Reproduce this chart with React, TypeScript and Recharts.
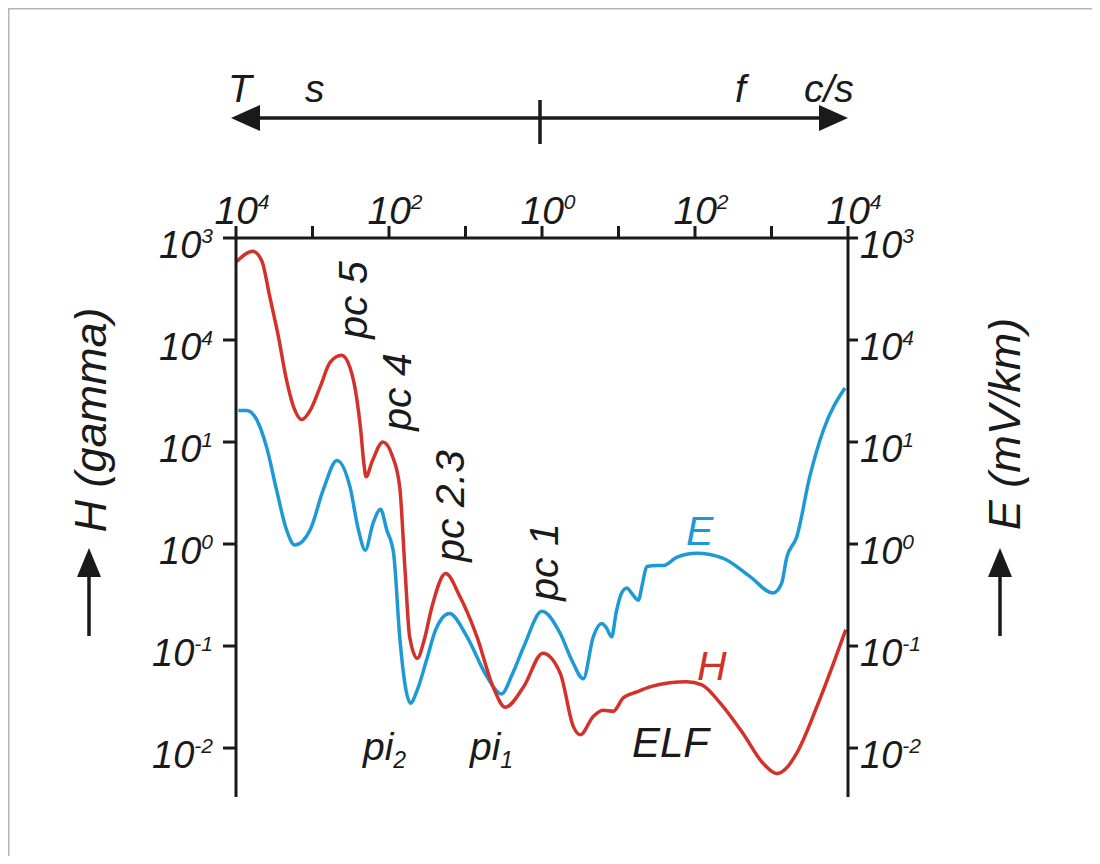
import React from 'react';
import { LineChart, Line, XAxis, YAxis } from 'recharts';

// x = log10(frequency) : -4 (period 10^4 s) ... +4 (10^4 c/s)
// y = log10(amplitude)
const hFreq = [-3.99, -3.78, -3.66, -3.56, -3.45, -3.34, -3.24, -3.14, -3.03, -2.9, -2.77, -2.62, -2.51, -2.42, -2.37, -2.33, -2.3, -2.22, -2.08, -1.96, -1.86, -1.79, -1.73, -1.63, -1.54, -1.44, -1.26, -1.07, -0.85, -0.64, -0.48, -0.24, 0.01, 0.24, 0.41, 0.5, 0.67, 0.8, 0.93, 1.06, 1.24, 1.41, 1.67, 1.89, 2.09, 2.33, 2.63, 2.89, 3.07, 3.19, 3.33, 3.59, 3.81, 3.97];
const hLevel = [2.77, 2.87, 2.77, 2.43, 2.05, 1.61, 1.33, 1.22, 1.31, 1.54, 1.78, 1.85, 1.73, 1.42, 1.12, 0.8, 0.66, 0.81, 1.0, 0.87, 0.56, -0.26, -0.91, -1.12, -0.94, -0.62, -0.29, -0.52, -0.91, -1.4, -1.6, -1.4, -1.07, -1.27, -1.79, -1.87, -1.69, -1.63, -1.64, -1.51, -1.45, -1.4, -1.36, -1.35, -1.38, -1.56, -1.86, -2.15, -2.25, -2.2, -2.05, -1.6, -1.17, -0.84];

const eFreq = [-3.97, -3.86, -3.73, -3.6, -3.47, -3.34, -3.23, -3.03, -2.86, -2.68, -2.51, -2.4, -2.31, -2.21, -2.11, -2.03, -1.94, -1.86, -1.79, -1.72, -1.63, -1.51, -1.39, -1.21, -0.98, -0.72, -0.53, -0.39, -0.24, 0.0, 0.24, 0.39, 0.54, 0.67, 0.78, 0.84, 0.91, 0.97, 1.04, 1.11, 1.16, 1.26, 1.31, 1.37, 1.5, 1.59, 1.76, 2.02, 2.37, 2.72, 3.02, 3.13, 3.2, 3.33, 3.5, 3.68, 3.96];
const eLevel = [1.31, 1.31, 1.22, 0.95, 0.53, 0.14, -0.01, 0.14, 0.53, 0.82, 0.56, 0.14, -0.06, 0.2, 0.34, 0.14, -0.09, -0.91, -1.38, -1.56, -1.43, -1.14, -0.84, -0.68, -0.91, -1.3, -1.47, -1.28, -1.01, -0.66, -0.88, -1.14, -1.32, -0.91, -0.78, -0.82, -0.91, -0.67, -0.48, -0.43, -0.47, -0.55, -0.4, -0.22, -0.21, -0.21, -0.13, -0.09, -0.14, -0.32, -0.48, -0.39, -0.13, 0.07, 0.66, 1.12, 1.53];

const xTicks = [-4, -3, -2, -1, 0, 1, 2, 3, 4];
const xLabelValues = [-4, -2, 0, 2, 4];
const xLabelExps = ['4', '2', '0', '2', '4'];

const yTicks = [-2, -1, 0, 1, 2, 3];
const yLabelExps = ['-2', '-1', '0', '1', '4', '3'];

const hData = hFreq.map((f, i) => ({ f, v: hLevel[i] }));
const eData = eFreq.map((f, i) => ({ f, v: eLevel[i] }));

const RED = '#d3322b';
const BLUE = '#1d9ad6';
const INK = '#1a1a1a';
const FONT = '"Liberation Sans", Arial, sans-serif';

const textStyle = { fontFamily: FONT, fontStyle: 'italic' as const, fill: INK };

function TopTick(props: any) {
  const { x, y, payload } = props;
  const i = xLabelValues.indexOf(payload.value);
  if (i < 0) return null;
  return (
    <text x={x + 6} y={y} textAnchor="middle" fontSize={39} style={textStyle}>
      10<tspan dy={-15} fontSize={21}>{xLabelExps[i]}</tspan>
    </text>
  );
}

function LeftTick(props: any) {
  const { x, y, payload } = props;
  const i = yTicks.indexOf(payload.value);
  return (
    <text x={x} y={y + 20} textAnchor="end" fontSize={38} style={textStyle}>
      10<tspan dy={-15} fontSize={21}>{yLabelExps[i]}</tspan>
    </text>
  );
}

function RightTick(props: any) {
  const { x, y, payload } = props;
  const i = yTicks.indexOf(payload.value);
  return (
    <text x={x} y={y + 20} textAnchor="start" fontSize={38} style={textStyle}>
      10<tspan dy={-15} fontSize={21}>{yLabelExps[i]}</tspan>
    </text>
  );
}

function Overlay() {
  return (
    <svg
      width={1100}
      height={864}
      style={{ position: 'absolute', left: -8, top: -8, pointerEvents: 'none' }}
    >
      {/* frame */}
      <line x1={8} y1={8.5} x2={1100} y2={8.5} stroke="#b4b4b4" strokeWidth={2} />
      <line x1={8.5} y1={8} x2={8.5} y2={864} stroke="#b4b4b4" strokeWidth={2} />

      {/* period / frequency arrow */}
      <line x1={250} y1={118} x2={830} y2={118} stroke={INK} strokeWidth={3.5} />
      <polygon points="231,118 260,105 260,131" fill={INK} />
      <polygon points="848,118 819,105 819,131" fill={INK} />
      <line x1={540} y1={100} x2={540} y2={144} stroke={INK} strokeWidth={3.5} />
      <text x={228} y={102} fontSize={39} style={textStyle}>T</text>
      <text x={305} y={102} fontSize={39} style={textStyle}>s</text>
      <text x={735} y={102} fontSize={39} style={textStyle}>f</text>
      <text x={804} y={102} fontSize={39} style={textStyle}>c/s</text>

      {/* axis titles */}
      <text transform="translate(106,420) rotate(-90)" textAnchor="middle" fontSize={45} style={textStyle}>
        H (gamma)
      </text>
      <line x1={89} y1={572} x2={89} y2={636} stroke={INK} strokeWidth={3.5} />
      <polygon points="89,548 77,577 101,577" fill={INK} />
      <text transform="translate(1020,424) rotate(-90)" textAnchor="middle" fontSize={45} style={textStyle}>
        E (mV/km)
      </text>
      <line x1={1000} y1={572} x2={1000} y2={636} stroke={INK} strokeWidth={3.5} />
      <polygon points="1000,548 988,577 1012,577" fill={INK} />

      {/* pulsation labels */}
      <text transform="translate(367,300) rotate(-90)" textAnchor="middle" fontSize={41} style={textStyle}>pc 5</text>
      <text transform="translate(411,392) rotate(-90)" textAnchor="middle" fontSize={41} style={textStyle}>pc 4</text>
      <text transform="translate(464,506) rotate(-90)" textAnchor="middle" fontSize={41} style={textStyle}>pc 2.3</text>
      <text transform="translate(558,562) rotate(-90)" textAnchor="middle" fontSize={41} style={textStyle}>pc 1</text>
      <text x={363} y={760} fontSize={39} style={textStyle}>
        pi<tspan dy={8} fontSize={23}>2</tspan>
      </text>
      <text x={470} y={760} fontSize={39} style={textStyle}>
        pi<tspan dy={8} fontSize={23}>1</tspan>
      </text>
      <text x={632} y={757} fontSize={42} style={textStyle}>ELF</text>
      <text x={686} y={545} fontSize={41} style={{ ...textStyle, fill: BLUE }}>E</text>
      <text x={697} y={680} fontSize={41} style={{ ...textStyle, fill: RED }}>H</text>
    </svg>
  );
}

export default function App() {
  return (
    <div style={{ position: 'relative', width: 1084, height: 848, background: '#fff' }}>
      <LineChart width={1084} height={848} margin={{ top: 190, left: 148, right: 164, bottom: 59 }}>
        <XAxis
          type="number"
          dataKey="f"
          orientation="top"
          domain={[-4, 4]}
          ticks={xTicks}
          height={40}
          allowDataOverflow
          axisLine={{ stroke: INK, strokeWidth: 3 }}
          tickLine={{ stroke: INK, strokeWidth: 3 }}
          tickSize={12}
          tickMargin={2}
          tick={<TopTick />}
          interval={0}
        />
        <YAxis
          yAxisId="left"
          type="number"
          domain={[-2.48, 3]}
          ticks={yTicks}
          width={80}
          allowDataOverflow
          axisLine={{ stroke: INK, strokeWidth: 3 }}
          tickLine={{ stroke: INK, strokeWidth: 3 }}
          tickSize={13}
          tickMargin={10}
          tick={<LeftTick />}
          interval={0}
        />
        <YAxis
          yAxisId="right"
          orientation="right"
          type="number"
          domain={[-2.48, 3]}
          ticks={yTicks}
          width={80}
          allowDataOverflow
          axisLine={{ stroke: INK, strokeWidth: 3 }}
          tickLine={{ stroke: INK, strokeWidth: 3 }}
          tickSize={10}
          tickMargin={2}
          tick={<RightTick />}
          interval={0}
        />
        <Line
          yAxisId="left"
          data={eData}
          dataKey="v"
          type="monotone"
          stroke={BLUE}
          strokeWidth={3.5}
          dot={false}
          isAnimationActive={false}
        />
        <Line
          yAxisId="left"
          data={hData}
          dataKey="v"
          type="monotone"
          stroke={RED}
          strokeWidth={3.5}
          dot={false}
          isAnimationActive={false}
        />
      </LineChart>
      <Overlay />
    </div>
  );
}
